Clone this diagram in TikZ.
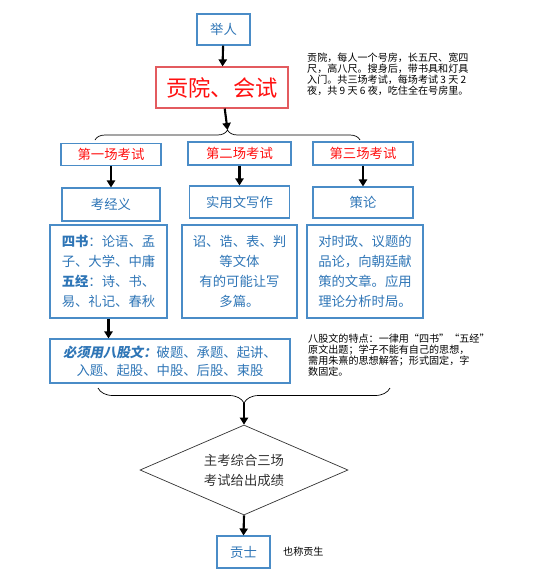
\documentclass[tikz,border=0pt]{standalone}
\usepackage{fontspec}
\setmainfont{Noto Sans CJK SC}
\newfontfamily\kjslant{Noto Sans CJK SC}[FakeSlant=0.18]
\usepackage{tikz}
\usetikzlibrary{arrows.meta,shapes.geometric,decorations.pathreplacing}
\definecolor{KJBlue}{HTML}{4A8CC7}
\definecolor{KJText}{HTML}{2E75B6}
\definecolor{KJRed}{HTML}{FF1010}
\definecolor{KJRedLine}{HTML}{E35B5F}
\definecolor{KJGray}{HTML}{333333}

\begin{document}
\begin{tikzpicture}[x=0.03cm,y=-0.03cm,
  bluebox/.style={draw=KJBlue,line width=0.9pt,text=KJText,inner sep=0pt,align=center,font=\fontsize{11.4}{17}\selectfont},
  examhead/.style={bluebox,text=KJRed},
  arr/.style={line width=1.8pt,-{Triangle[width=7pt,length=6pt]}},
  note/.style={anchor=north west,align=left,inner sep=0pt,font=\fontsize{8.6}{9.2}\selectfont}]
\path[use as bounding box] (0,0) rectangle (557,585);
% top part
\node[bluebox,minimum width=1.59cm,minimum height=0.93cm] (junren) at (223.5,29.5) {举人};
\node[draw=KJRedLine,line width=1pt,text=KJRed,minimum width=3.96cm,minimum height=1.23cm,font=\fontsize{19}{22}\selectfont] (gongyuan) at (222,87.5) {贡院、会试};
\node[note] (gynote) at (307,53) {贡院，每人一个号房，长五尺、宽四\\尺，高八尺。搜身后，带书具和灯具\\入门。共三场考试，每场考试 3 天 2\\夜，共 9 天 6 夜，吃住全在号房里。};
\draw[decorate,decoration={brace,amplitude=0.3cm},line width=0.6pt] (95,140) -- (360,140);
\coordinate (topbrace) at (227.5,130);
\draw[arr] (junren) -- (gongyuan);
\draw[arr] (gongyuan) -- (topbrace);
% three exams
\node[examhead,minimum width=3.0cm,minimum height=0.66cm] (ks1) at (111,154.5) {第一场考试};
\node[examhead,minimum width=3.09cm,minimum height=0.69cm] (ks2) at (239.5,153.5) {第二场考试};
\node[examhead,minimum width=3.0cm,minimum height=0.69cm] (ks3) at (363,153.5) {第三场考试};
\node[bluebox,minimum width=2.94cm,minimum height=0.99cm] (nr1) at (111,204.5) {考经义};
\node[bluebox,minimum width=3.0cm,minimum height=0.96cm] (nr2) at (239.5,202) {实用文写作};
\node[bluebox,minimum width=3.0cm,minimum height=0.93cm] (nr3) at (363,202.5) {策论};
\draw[arr] (ks1) -- (nr1);
\draw[arr] (ks2) -- (nr2);
\draw[arr] (ks3) -- (nr3);
\node[bluebox,align=left,minimum width=3.51cm,minimum height=2.79cm] (xq1) at (108.5,271.5) {\textbf{四书}：论语、孟\\子、大学、中庸\\\textbf{五经}：诗、书、\\易、礼记、春秋};
\node[bluebox,minimum width=3.45cm,minimum height=2.79cm] (xq2) at (239.5,271.5) {诏、诰、表、判\\等文体\\有的可能让写\\多篇。};
\node[bluebox,align=left,minimum width=3.48cm,minimum height=2.79cm] (xq3) at (365,271.5) {对时政、议题的\\品论，向朝廷献\\策的文章。应用\\理论分析时局。};
% eight-legged essay
\node[bluebox,minimum width=7.2cm,minimum height=1.32cm,font=\fontsize{11.4}{15.5}\selectfont] (bagu) at (170,361) {{\kjslant\bfseries 必须用八股文：}破题、承题、起讲、\\入题、起股、中股、后股、束股};
\draw[arr] (xq1.south) -- (xq1.south |- bagu.north);
\node[note] (bgnote) at (308,334) {八股文的特点：一律用“四书”“五经”\\原文出题；学子不能有自己的思想，\\需用朱熹的思想解答；形式固定，字\\数固定。};
\draw[decorate,decoration={brace,amplitude=0.45cm},line width=0.6pt] (390,388) -- (98,388);
\coordinate (botbrace) at (244,403);
% result
\node[draw=KJGray,line width=0.6pt,diamond,inner sep=0pt,aspect=2.3,minimum width=6.24cm,minimum height=2.7cm,text=KJGray,align=center,font=\fontsize{11.4}{17}\selectfont] (pingding) at (244,470) {主考综合三场\\考试给出成绩};
\node[bluebox,minimum width=1.59cm,minimum height=0.96cm] (gongshi) at (243.5,552) {贡士};
\node[anchor=west,inner sep=0pt,font=\fontsize{8.6}{9}\selectfont] (gsnote) at (283,552) {也称贡生};
\draw[arr] (botbrace) -- (pingding.north);
\draw[arr] (pingding.south) -- (gongshi.north);
\end{tikzpicture}
\end{document}
